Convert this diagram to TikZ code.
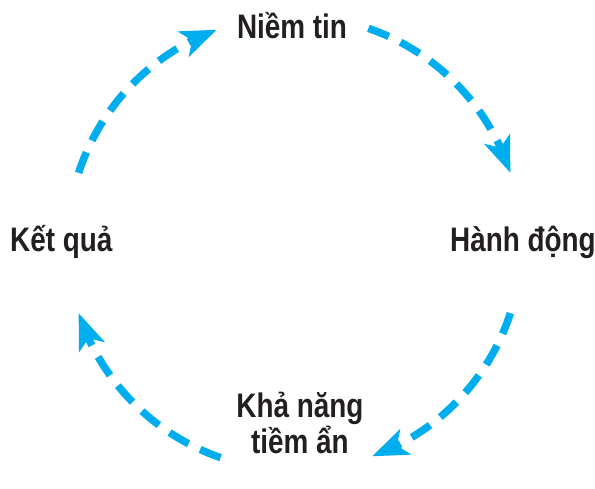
\documentclass[tikz,border=0pt]{standalone}
\usepackage{fontspec}
\newfontfamily\cyclefont{Liberation Sans}[FakeStretch=0.82]
\usetikzlibrary{arrows.meta,bending}

\begin{document}
\begin{tikzpicture}[x=1pt,y=1pt,
  cyclearrow/.style={draw=cyclecyan,line width=7.5pt,dash pattern=on 22pt off 13pt,
    -{Stealth[flex,length=36pt,width=27pt,inset=9pt]}},
  cyclelabel/.style={inner sep=0pt,font=\cyclefont\bfseries\fontsize{34}{32}\selectfont,text=labelgray}]
\definecolor{cyclecyan}{RGB}{0,174,239}
\definecolor{labelgray}{RGB}{35,31,32}
\useasboundingbox (0,0) rectangle (595,488);
\coordinate (centre) at (294.5,245);

\node[cyclelabel,anchor=base] (belief) at (292,449) {Niềm tin};
\node[cyclelabel,anchor=base west] (action) at (450,236) {Hành động};
\node[cyclelabel,anchor=base,align=center] (potential) at (300,35) {Khả năng\\[0pt]tiềm ẩn};
\node[cyclelabel,anchor=base west] (result) at (10,236) {Kết quả};

% the four arcs of the cycle
\draw[cyclearrow] (centre) ++(162:227) arc[start angle=162,end angle=110,radius=227];
\draw[cyclearrow] (centre) ++(71:227) arc[start angle=71,end angle=18,radius=227];
\draw[cyclearrow] (centre) ++(-18:227) arc[start angle=-18,end angle=-70,radius=227];
\draw[cyclearrow] (centre) ++(-109:227) arc[start angle=-109,end angle=-162,radius=227];
\end{tikzpicture}
\end{document}
